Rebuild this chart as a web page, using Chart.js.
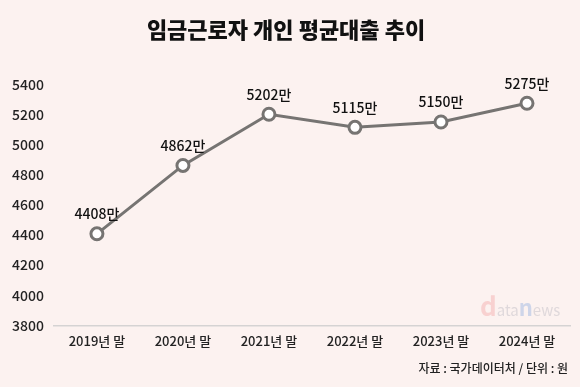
<!DOCTYPE html>
<html>
<head>
<meta charset="utf-8">
<script src="https://cdn.jsdelivr.net/npm/chart.js@4"></script>
<style>
  html, body { margin: 0; padding: 0; background: #fcf2f0; }
  #wrap { width: 580px; height: 387px; }
</style>
</head>
<body>
<div id="wrap"><canvas id="c"></canvas></div>
<script>
const years = ['2019년 말', '2020년 말', '2021년 말', '2022년 말', '2023년 말', '2024년 말'];
const loans = [4408, 4862, 5202, 5115, 5150, 5275];
const yMin = 3800;
const yMax = 5400;
const yStep = 200;

const FONT = "'Noto Sans CJK KR', 'Noto Sans', sans-serif";

// value labels above each point
const pointLabels = {
    id: 'pointLabels',
    afterDatasetsDraw(chart) {
        const ctx = chart.ctx;
        const meta = chart.getDatasetMeta(0);
        ctx.save();
        ctx.font = '500 14px ' + FONT;
        ctx.fillStyle = '#111';
        ctx.textAlign = 'center';
        ctx.textBaseline = 'bottom';
        meta.data.forEach((pt, i) => {
            ctx.fillText(loans[i] + '만', pt.x, pt.y - 13);
        });
        ctx.restore();
    }
};

// source note + watermark
const footer = {
    id: 'footer',
    afterDraw(chart) {
        const ctx = chart.ctx;
        ctx.save();
        ctx.font = '500 12px ' + FONT;
        ctx.fillStyle = '#222';
        ctx.textAlign = 'right';
        ctx.textBaseline = 'middle';
        ctx.fillText('자료 : 국가데이터처 / 단위 : 원', 568, 368);

        ctx.textAlign = 'left';
        ctx.textBaseline = 'alphabetic';
        ctx.font = 'bold 26px ' + FONT;
        ctx.fillStyle = 'rgba(240,150,150,0.35)';
        ctx.fillText('d', 480, 316);
        let x = 480 + ctx.measureText('d').width;
        ctx.font = '15px ' + FONT;
        ctx.fillStyle = 'rgba(170,170,180,0.35)';
        ctx.fillText('ata', x, 316);
        x += ctx.measureText('ata').width;
        ctx.font = 'bold 22px ' + FONT;
        ctx.fillStyle = 'rgba(120,160,220,0.35)';
        ctx.fillText('n', x, 316);
        x += ctx.measureText('n').width;
        ctx.font = '15px ' + FONT;
        ctx.fillStyle = 'rgba(170,170,180,0.35)';
        ctx.fillText('ews', x, 316);
        ctx.restore();
    }
};

new Chart(document.getElementById('c'), {
    type: 'line',
    data: {
        labels: years,
        datasets: [{
            data: loans,
            borderColor: '#767472',
            borderWidth: 3,
            pointRadius: 6,
            pointBorderWidth: 3,
            pointBackgroundColor: '#ffffff',
            pointBorderColor: '#767472',
            tension: 0,
            fill: false
        }]
    },
    options: {
        responsive: true,
        maintainAspectRatio: false,
        animation: false,
        layout: { padding: { left: 2, right: 10, top: 0, bottom: 30 } },
        plugins: {
            legend: { display: false },
            tooltip: { enabled: false },
            title: {
                display: true,
                text: '임금근로자 개인 평균대출 추이',
                color: '#111',
                font: { family: FONT, size: 22, weight: '900' },
                padding: { top: 16, bottom: 42 }
            }
        },
        scales: {
            y: {
                min: yMin,
                max: yMax,
                ticks: {
                    stepSize: yStep,
                    color: '#222',
                    font: { family: FONT, size: 14, weight: '500' },
                    padding: 10,
                    callback: (v) => String(v)
                },
                grid: { display: false, drawTicks: false },
                border: { display: false }
            },
            x: {
                offset: true,
                ticks: {
                    color: '#222',
                    font: { family: FONT, size: 13, weight: '500' },
                    padding: 8
                },
                grid: { display: false, drawTicks: false },
                border: { display: true, color: '#d5d3d3', width: 1.5 }
            }
        }
    },
    plugins: [pointLabels, footer]
});
</script>
</body>
</html>
